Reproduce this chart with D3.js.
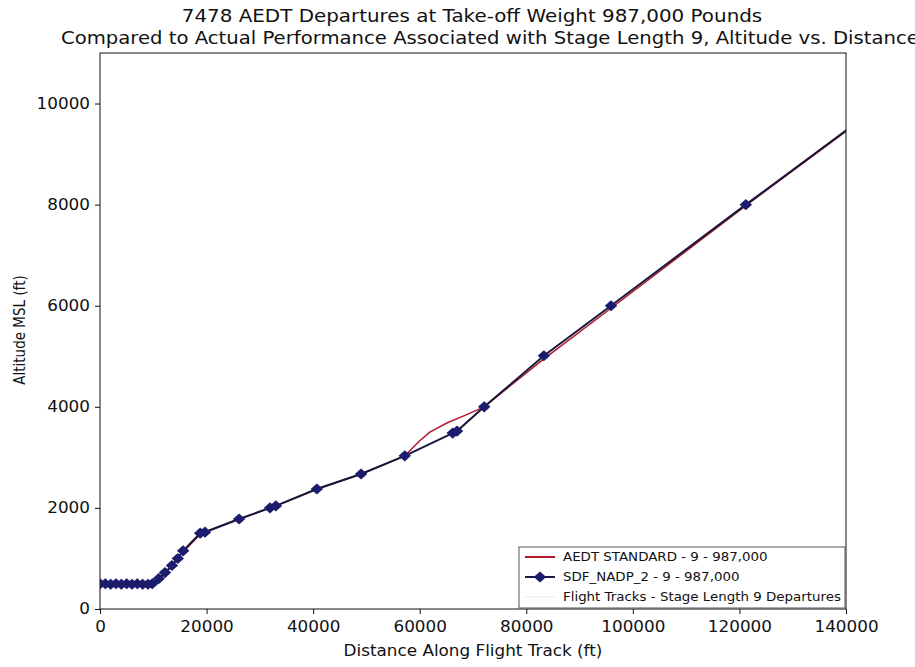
<!DOCTYPE html>
<html><head><meta charset="utf-8">
<script src="https://cdn.jsdelivr.net/npm/d3@7"></script>
<style>body{margin:0;background:#fff;overflow:hidden;} text{font-family:"DejaVu Sans",sans-serif;}</style>
</head><body>
<script>
const titleLines = ["7478 AEDT Departures at Take-off Weight 987,000 Pounds",
  "Compared to Actual Performance Associated with Stage Length 9, Altitude vs. Distance"];
const xLabel = "Distance Along Flight Track (ft)";
const yLabel = "Altitude MSL (ft)";
const xTicks = [0,20000,40000,60000,80000,100000,120000,140000];
const yTicks = [0,2000,4000,6000,8000,10000];
const seriesNames = ["AEDT STANDARD - 9 - 987,000","SDF_NADP_2 - 9 - 987,000","Flight Tracks - Stage Length 9 Departures"];

// AEDT standard profile (distance ft, altitude ft)
const aedtX = [0,9800,12200,15600,19000,26100,33000,40700,49000,57200,60000,61900,65100,68500,72100,83300,95900,121200,147000];
const aedtY = [490,490,700,1130,1500,1780,2040,2375,2670,3030,3330,3500,3680,3830,4000,4950,5950,7980,10000];
// SDF_NADP_2 profile
const nadpX = [0,1000,2000,3000,4000,5000,6000,7000,8000,9000,9800,11000,12200,13500,14600,15600,18800,19700,26100,31900,33000,40700,49000,57200,66200,67000,72100,83300,95900,121200,147000];
const nadpY = [500,500,490,500,490,500,490,500,490,490,500,600,720,860,1000,1150,1500,1520,1780,2000,2040,2375,2670,3030,3480,3520,4000,5010,6000,8000,10010];

const W=915,H=667;
const m={l:100,r:846,t:53,b:609};
const svg=d3.select("body").append("svg").attr("width",W).attr("height",H);
const x=d3.scaleLinear().domain([0,140000]).range([m.l,m.r]);
const y=d3.scaleLinear().domain([0,11000]).range([m.b,m.t]);

function stretch(sel,sx){sel.each(function(){const L=this.getComputedTextLength();
  d3.select(this).attr("textLength",L*sx).attr("lengthAdjust","spacingAndGlyphs");});}

svg.append("defs").append("clipPath").attr("id","clip").append("rect")
  .attr("x",m.l).attr("y",m.t).attr("width",m.r-m.l).attr("height",m.b-m.t);

// titles
svg.append("text").attr("x",472).attr("y",22).attr("text-anchor","middle")
  .attr("font-size",17).attr("fill","#111").text(titleLines[0]).call(stretch,1.17);
svg.append("text").attr("x",61).attr("y",44).attr("text-anchor","start")
  .attr("font-size",17).attr("fill","#111").text(titleLines[1]).call(stretch,1.155);

// axes
const xAxis=svg.append("g").attr("transform",`translate(0,${m.b})`)
  .call(d3.axisBottom(x).tickValues(xTicks).tickFormat(d3.format("d")).tickSizeOuter(0).tickSize(5).tickPadding(4));
const yAxis=svg.append("g").attr("transform",`translate(${m.l},0)`)
  .call(d3.axisLeft(y).tickValues(yTicks).tickFormat(d3.format("d")).tickSizeOuter(0).tickSize(5).tickPadding(5));
[xAxis,yAxis].forEach(g=>{g.selectAll("text").attr("font-size",15).attr("fill","#111").style("font-family","DejaVu Sans");
  g.select(".domain").remove(); g.selectAll("line").attr("stroke","#111");});
xAxis.selectAll("text").attr("dy","0.9em");
xAxis.selectAll(".tick text").call(stretch,1.12);
yAxis.selectAll(".tick text").call(stretch,1.12);

svg.append("text").attr("x",473).attr("y",656).attr("text-anchor","middle")
  .attr("font-size",15).attr("fill","#111").text(xLabel).call(stretch,1.12);
svg.append("text").attr("transform",`translate(25,${330}) scale(1.2,1) rotate(-90)`).attr("text-anchor","middle")
  .attr("font-size",13.5).attr("fill","#111").text(yLabel);

const plot=svg.append("g").attr("clip-path","url(#clip)");
const line=d3.line().x(d=>x(d[0])).y(d=>y(d[1]));
const aedt=aedtX.map((v,i)=>[v,aedtY[i]]);
const nadp=nadpX.map((v,i)=>[v,nadpY[i]]);
plot.append("path").datum(aedt).attr("d",line).attr("fill","none").attr("stroke","#b2182b").attr("stroke-width",1.5);
plot.append("path").datum(nadp).attr("d",line).attr("fill","none").attr("stroke","#17173a").attr("stroke-width",2);
const diamond=d3.symbol().type(d3.symbolSquare).size(62);
plot.selectAll("path.mk").data(nadp).join("path").attr("class","mk")
  .attr("d",diamond).attr("transform",d=>`translate(${x(d[0])},${y(d[1])}) scale(1.12,1) rotate(45)`)
  .attr("fill","#1c1c6e");

// frame
svg.append("rect").attr("x",m.l).attr("y",m.t).attr("width",m.r-m.l).attr("height",m.b-m.t)
  .attr("fill","none").attr("stroke","#111").attr("stroke-width",1);

// legend
const lg=svg.append("g").attr("transform","translate(519,547)");
lg.append("rect").attr("width",326).attr("height",61).attr("fill","#fff").attr("stroke","#555").attr("stroke-width",1);
const rows=[{c:"#b2182b",mk:false},{c:"#1a1a4a",mk:true},{c:"#f4f4f4",mk:false}];
rows.forEach((r,i)=>{
  const yy=10+i*20;
  lg.append("line").attr("x1",6).attr("x2",36).attr("y1",yy).attr("y2",yy).attr("stroke",r.c).attr("stroke-width",2);
  if(r.mk) lg.append("path").attr("d",diamond).attr("transform",`translate(21,${yy}) scale(1.12,1) rotate(45)`).attr("fill","#1c1c6e");
  lg.append("text").attr("x",44).attr("y",yy+4).attr("font-size",12).attr("fill","#111").text(seriesNames[i]).call(stretch,1.115);
});
</script>
</body></html>
